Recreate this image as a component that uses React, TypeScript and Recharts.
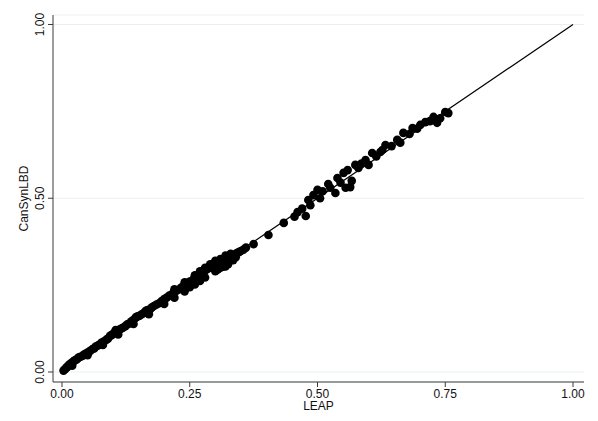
import React from 'react';
import {
  ScatterChart,
  Scatter,
  XAxis,
  YAxis,
  CartesianGrid,
  ReferenceLine,
} from 'recharts';

// LEAP estimate (x) and CanSynLBD estimate (y)
const leapScores = [
  0.003, 0.006, 0.008, 0.01, 0.012, 0.015, 0.018, 0.02, 0.022, 0.025, 0.028, 0.03, 0.033, 0.036,
  0.04, 0.043, 0.046, 0.05, 0.053, 0.056, 0.06, 0.063, 0.066, 0.07, 0.073, 0.077, 0.08, 0.084,
  0.087, 0.09, 0.094, 0.097, 0.1, 0.104, 0.107, 0.11, 0.113, 0.117, 0.12, 0.124, 0.128, 0.132,
  0.136, 0.14, 0.144, 0.148, 0.152, 0.156, 0.16, 0.164, 0.168, 0.172, 0.176, 0.18, 0.185, 0.19,
  0.195, 0.2, 0.205, 0.21, 0.214, 0.218, 0.222, 0.226, 0.23, 0.234, 0.238, 0.242, 0.246, 0.25,
  0.254, 0.258, 0.262, 0.266, 0.27, 0.274, 0.278, 0.282, 0.286, 0.29, 0.294, 0.298, 0.302, 0.306,
  0.31, 0.314, 0.318, 0.322, 0.326, 0.33, 0.334, 0.338, 0.342, 0.346, 0.35, 0.355, 0.36,
];
const canSynScores = [
  0.004, 0.008, 0.012, 0.014, 0.018, 0.022, 0.026, 0.025, 0.03, 0.034, 0.035, 0.038, 0.042, 0.044,
  0.046, 0.05, 0.052, 0.056, 0.058, 0.062, 0.066, 0.068, 0.073, 0.076, 0.078, 0.084, 0.086, 0.09,
  0.093, 0.096, 0.104, 0.106, 0.11, 0.114, 0.12, 0.121, 0.122, 0.126, 0.128, 0.132, 0.137, 0.14,
  0.146, 0.15, 0.156, 0.16, 0.162, 0.166, 0.17, 0.176, 0.178, 0.18, 0.186, 0.19, 0.194, 0.198,
  0.204, 0.21, 0.214, 0.22, 0.222, 0.228, 0.232, 0.236, 0.238, 0.244, 0.246, 0.252, 0.256, 0.26,
  0.262, 0.268, 0.272, 0.278, 0.282, 0.285, 0.29, 0.294, 0.298, 0.302, 0.304, 0.308, 0.312, 0.316,
  0.318, 0.32, 0.322, 0.326, 0.33, 0.332, 0.334, 0.338, 0.342, 0.345, 0.348, 0.352, 0.358,
];

// lower edge of the dense band
const leapLower = [
  0.02, 0.05, 0.08, 0.11, 0.14, 0.17, 0.2, 0.22, 0.24, 0.25, 0.26, 0.27, 0.28, 0.3, 0.31, 0.32,
  0.325, 0.335, 0.34, 0.305, 0.315,
];
const canSynLower = [
  0.018, 0.048, 0.078, 0.108, 0.138, 0.166, 0.196, 0.214, 0.232, 0.244, 0.252, 0.262, 0.272, 0.29,
  0.3, 0.304, 0.31, 0.322, 0.33, 0.295, 0.303,
];

// upper edge of the dense band
const leapHigh = [0.22, 0.24, 0.26, 0.27, 0.28, 0.29, 0.3, 0.31, 0.32, 0.33, 0.105, 0.145, 0.168];
const canSynHigh = [0.238, 0.258, 0.278, 0.29, 0.3, 0.31, 0.32, 0.325, 0.335, 0.34, 0.121, 0.158, 0.178];

// sparser upper part
const leapUpper = [
  0.375, 0.404, 0.434, 0.455, 0.461, 0.477, 0.47, 0.482, 0.486, 0.492, 0.5, 0.505, 0.51, 0.521,
  0.525, 0.535, 0.539, 0.545, 0.551, 0.555, 0.559, 0.564, 0.567, 0.574, 0.58, 0.586, 0.594, 0.6,
  0.607, 0.615, 0.623, 0.627, 0.633, 0.645, 0.656, 0.662, 0.668, 0.68, 0.686, 0.695, 0.701, 0.711,
  0.72, 0.727, 0.734, 0.74, 0.75, 0.756,
];
const canSynUpper = [
  0.368, 0.394, 0.429, 0.447, 0.46, 0.449, 0.47, 0.495, 0.48, 0.509, 0.524, 0.5, 0.52, 0.541,
  0.53, 0.515, 0.558, 0.545, 0.573, 0.53, 0.581, 0.532, 0.55, 0.596, 0.587, 0.6, 0.61, 0.596,
  0.63, 0.62, 0.633, 0.639, 0.653, 0.65, 0.668, 0.66, 0.688, 0.685, 0.702, 0.7, 0.711, 0.719,
  0.722, 0.734, 0.717, 0.73, 0.748, 0.745,
];

const xTicks = [0, 0.25, 0.5, 0.75, 1];
const yTicks = [0, 0.5, 1];

const points = [
  ...leapScores.map((x, i) => ({ x, y: canSynScores[i] })),
  ...leapLower.map((x, i) => ({ x, y: canSynLower[i] })),
  ...leapHigh.map((x, i) => ({ x, y: canSynHigh[i] })),
  ...leapUpper.map((x, i) => ({ x, y: canSynUpper[i] })),
];

const FONT = '"Liberation Sans", Arial, sans-serif';
const AXIS_COLOR = '#3a3a3a';

const Dot = (props: any) => <circle cx={props.cx} cy={props.cy} r={4.3} fill="#000" />;

const YTick = ({ x, y, payload }: any) => (
  <text
    x={x - 2}
    y={y}
    transform={`rotate(-90, ${x - 2}, ${y})`}
    textAnchor="middle"
    fontSize={12}
    fontFamily={FONT}
    fill="#111"
  >
    {Number(payload.value).toFixed(2)}
  </text>
);

const YLabel = ({ viewBox }: any) => {
  const cy = viewBox.y + viewBox.height / 2;
  return (
    <text
      x={28}
      y={cy}
      transform={`rotate(-90, 28, ${cy})`}
      textAnchor="middle"
      fontSize={12}
      fontFamily={FONT}
      fill="#111"
    >
      CanSynLBD
    </text>
  );
};

export default function App() {
  return (
    <div style={{ position: 'absolute', left: 0, top: 0, background: '#fff' }}>
      <ScatterChart
        width={598}
        height={421}
        margin={{ top: 15, right: 14, left: 0, bottom: 0 }}
      >
        <CartesianGrid horizontal vertical={false} stroke="#e8f0f2" />
        <XAxis
          type="number"
          dataKey="x"
          domain={[-0.0176, 1.0215]}
          ticks={xTicks}
          allowDataOverflow
          height={39}
          tickSize={5}
          tickMargin={2}
          stroke={AXIS_COLOR}
          tick={{ fontSize: 12, fontFamily: FONT, fill: '#111' }}
          tickFormatter={(v: number) => v.toFixed(2)}
          label={{ value: 'LEAP', position: 'insideBottom', offset: 11, fontSize: 12, fontFamily: FONT, fill: '#111' }}
        />
        <YAxis
          type="number"
          dataKey="y"
          domain={[-0.0288, 1.0273]}
          ticks={yTicks}
          allowDataOverflow
          width={53}
          tickSize={5}
          stroke={AXIS_COLOR}
          tick={<YTick />}
          label={<YLabel />}
        />
        <ReferenceLine
          segment={[{ x: 0, y: 0 }, { x: 1, y: 1 }]}
          stroke="#000"
          strokeWidth={1.2}
        />
        <Scatter data={points} shape={<Dot />} isAnimationActive={false} />
      </ScatterChart>
    </div>
  );
}
